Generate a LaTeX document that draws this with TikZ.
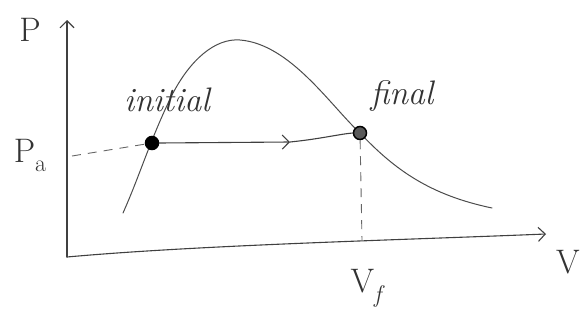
\documentclass[tikz,border=0pt]{standalone}
\usetikzlibrary{arrows.meta}
\begin{document}
\begin{tikzpicture}[x=1pt,y=-1pt,
  ink/.style={draw=black!75,line width=1.1pt,line cap=round},
  barb/.style={-{Straight Barb[length=7pt,width=14pt,line width=1.1pt]}},
  dashline/.style={draw=black!60,line width=0.9pt,dash pattern=on 9pt off 7pt},
  hand/.style={font=\fontsize{34}{38}\selectfont,text=black!80,inner sep=0pt},
  pt/.style={circle,minimum size=13pt,inner sep=0pt,line width=1.5pt}]
\useasboundingbox (0,0) rectangle (582,324);
% axes
\coordinate (O) at (67,257);
\coordinate (ytop) at (67,20);
\coordinate (xend) at (546,234);
\draw[ink,barb] (O) -- (67,140) -- (ytop);
\draw[ink,barb] (O) .. controls (200,245) and (400,240) .. (xend);
% curve
\draw[ink,line width=1pt,draw=black!70] (123,213) .. controls (140,175) and (150,140) .. (172,95)
  .. controls (190,60) and (215,38) .. (240,40)
  .. controls (290,44) and (330,105) .. (360,133)
  .. controls (395,170) and (430,195) .. (492,208);
% points
\node[pt,fill=black,draw=black] (init) at (152,143) {};
\node[pt,fill=black!65,draw=black] (fin) at (360,133) {};
% dashed guides
\coordinate (pa) at (72,156);
\coordinate (vf) at (362,240);
\draw[dashline] (pa) -- (init);
\draw[dashline] (fin) -- (vf);
% process arrow
\coordinate (mid) at (290,142);
\draw[ink,barb] (init.east) -- (mid);
\draw[ink] (mid) .. controls (320,139) and (340,134) .. (fin.west);
% labels
\node[hand] (lP) at (30,30) {P};
\node[hand] (lPa) at (30,155) {P{\fontsize{24}{26}\selectfont\raisebox{-9pt}{a}}};
\node[hand] (lV) at (568,262) {V};
\node[hand] (lVf) at (366,288) {V{\fontsize{24}{26}\selectfont\itshape\raisebox{-10pt}{f}}};
\node[hand,font=\fontsize{34}{38}\selectfont\itshape] (linit) at (167,100) {initial};
\node[hand,font=\fontsize{34}{38}\selectfont\itshape] (lfin) at (402,96) {final};
\end{tikzpicture}
\end{document}
